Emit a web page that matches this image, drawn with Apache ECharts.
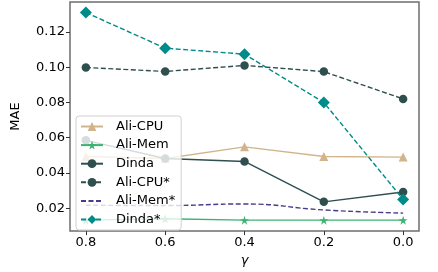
<!DOCTYPE html>
<html><head><meta charset="utf-8">
<script src="https://cdn.jsdelivr.net/npm/echarts@6/dist/echarts.min.js"></script>
<style>html,body{margin:0;padding:0;background:#fff}#c{width:438px;height:272px}</style>
</head><body><div id="c"></div>
<script>
const gammas = [0.8, 0.6, 0.4, 0.2, 0.0];
const xTicks = [0.0, 0.2, 0.4, 0.6, 0.8];
const yTicks = [0.02, 0.04, 0.06, 0.08, 0.10, 0.12];
const aliCpu = [0.0493, 0.0482, 0.0548, 0.0493, 0.049];
const aliMem = [0.0132, 0.0140, 0.0132, 0.0132, 0.0132];
const dinda = [0.0585, 0.0482, 0.0465, 0.0236, 0.0292];
const aliCpuStar = [0.0998, 0.0976, 0.1010, 0.0975, 0.0820];
const aliMemStar = [0.0217, 0.0215, 0.0224, 0.0190, 0.0172];
const dindaStar = [0.131, 0.1108, 0.1074, 0.0800, 0.0250];
const names = ['Ali-CPU','Ali-Mem','Dinda','Ali-CPU*','Ali-Mem*','Dinda*'];

const star = 'path://M50,0 L61,35 L98,35 L68,57 L79,91 L50,70 L21,91 L32,57 L2,35 L39,35 Z';
function pts(arr){ return gammas.map((g,i)=>[g,arr[i]]); }
const dash = [5,2.5];
function mk(name, arr, color, symbol, size, dashed, smooth){
  return {
    name, type:'line', data: pts(arr), symbol, symbolSize: size, smooth: smooth||false,
    showSymbol: symbol!=='none',
    lineStyle:{color, width:1.4, type: dashed?dash:'solid'},
    itemStyle:{color}, z: 2
  };
}
const chart = echarts.init(document.getElementById('c'), null, {renderer:'canvas'});
const axisCol = '#333';
chart.setOption({
  animation:false,
  textStyle:{fontFamily:'DejaVu Sans'},
  grid:{left:70, right:19, top:2, bottom:39, show:true, borderColor:'#6e6e6e', borderWidth:1.5},
  xAxis:{
    type:'value', inverse:true, min:-0.04, max:0.84,
    name:'γ', nameLocation:'middle', nameGap:20,
    nameTextStyle:{fontSize:13, fontStyle:'italic', color:'#000', fontFamily:'DejaVu Sans'},
    axisLine:{show:false, onZero:false},
    axisTick:{show:true, length:4, inside:false, customValues:xTicks, lineStyle:{color:axisCol}},
    axisLabel:{customValues:xTicks, fontSize:13, color:'#000', margin:5, formatter:v=>v.toFixed(1)},
    splitLine:{show:false}
  },
  yAxis:{
    type:'value', min:0.007, max:0.137,
    name:'MAE', nameLocation:'middle', nameGap:48,
    nameTextStyle:{fontSize:13, color:'#000', fontFamily:'DejaVu Sans'},
    axisLine:{show:false, onZero:false},
    axisTick:{show:true, length:4, customValues:yTicks, lineStyle:{color:axisCol}},
    axisLabel:{customValues:yTicks, fontSize:13, color:'#000', margin:5, formatter:v=>v.toFixed(2)},
    splitLine:{show:false}
  },
  legend:{
    orient:'vertical', left:76, top:116,
    data: names.map(n => n === 'Ali-Mem*' ? {name:n, itemStyle:{opacity:0}} : n),
    backgroundColor:'rgba(255,255,255,0.8)', borderColor:'#d0d0d0', borderWidth:1, borderRadius:3,
    padding:[4,6,4,4], itemWidth:22, itemHeight:11, itemGap:5.6,
    textStyle:{fontSize:13, color:'#000', fontFamily:'DejaVu Sans', padding:[0,0,0,8]}
  },
  series:[
    mk('Ali-CPU', aliCpu, '#d2b48c', 'triangle', 9, false),
    mk('Ali-Mem', aliMem, '#3cb371', star, 9, false),
    mk('Dinda', dinda, '#2f4f4f', 'circle', 8.5, false),
    mk('Ali-CPU*', aliCpuStar, '#2f4f4f', 'circle', 8.5, true),
    mk('Ali-Mem*', aliMemStar, '#483d8b', 'none', 0, true, 0.5),
    mk('Dinda*', dindaStar, '#008b8b', 'diamond', 12, true)
  ]
});
</script></body></html>
